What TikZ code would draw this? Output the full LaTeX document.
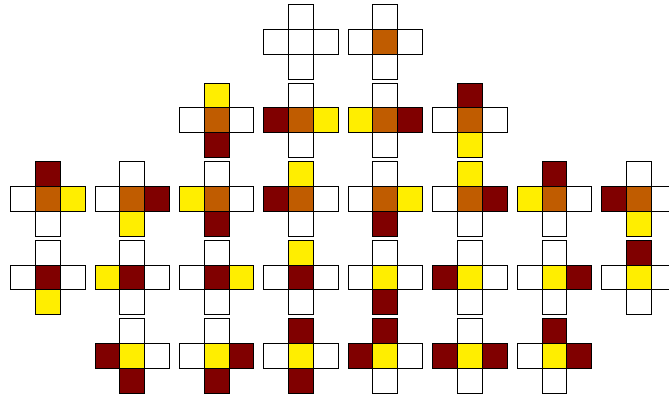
\documentclass[tikz,border=0pt]{standalone}
\definecolor{cW}{HTML}{FFFFFF}
\definecolor{cR}{HTML}{800000}
\definecolor{cO}{HTML}{C05C00}
\definecolor{cY}{HTML}{FFEE00}
\tikzset{cell/.style={draw=black,line width=0.8pt}}
\newcommand{\pluscross}[7]{%
  \begin{scope}[shift={(#1,#2)}]
    \path[cell,fill=c#3] (-12.4,-37.2) rectangle (12.4,-12.4);
    \path[cell,fill=c#4] (-37.2,-12.4) rectangle (-12.4,12.4);
    \path[cell,fill=c#5] (-12.4,-12.4) rectangle (12.4,12.4);
    \path[cell,fill=c#6] (12.4,-12.4) rectangle (37.2,12.4);
    \path[cell,fill=c#7] (-12.4,12.4) rectangle (12.4,37.2);
  \end{scope}}
\begin{document}
\begin{tikzpicture}[x=1pt,y=-1pt]
\useasboundingbox (0,0) rectangle (669,396);
\clip (0,0) rectangle (669,396);
% row 1
\pluscross{301}{41.7}{W}{W}{W}{W}{W}
\pluscross{385.2}{41.7}{W}{W}{O}{W}{W}
% row 2
\pluscross{216.5}{120.2}{Y}{W}{O}{W}{R}
\pluscross{301}{120.2}{W}{R}{O}{Y}{W}
\pluscross{385.2}{120.2}{W}{Y}{O}{R}{W}
\pluscross{469.8}{120.2}{R}{W}{O}{W}{Y}
% row 3
\pluscross{47.7}{198.8}{R}{W}{O}{Y}{W}
\pluscross{132.2}{198.8}{W}{W}{O}{R}{Y}
\pluscross{216.5}{198.8}{W}{Y}{O}{W}{R}
\pluscross{301}{198.8}{Y}{R}{O}{W}{W}
\pluscross{385.2}{198.8}{W}{W}{O}{Y}{R}
\pluscross{469.8}{198.8}{Y}{W}{O}{R}{W}
\pluscross{554.4}{198.8}{R}{Y}{O}{W}{W}
\pluscross{638.8}{198.8}{W}{R}{O}{W}{Y}
% row 4
\pluscross{47.7}{277.3}{W}{W}{R}{W}{Y}
\pluscross{132.2}{277.3}{W}{Y}{R}{W}{W}
\pluscross{216.5}{277.3}{W}{W}{R}{Y}{W}
\pluscross{301}{277.3}{Y}{W}{R}{W}{W}
\pluscross{385.2}{277.3}{W}{W}{Y}{W}{R}
\pluscross{469.8}{277.3}{W}{R}{Y}{W}{W}
\pluscross{554.4}{277.3}{W}{W}{Y}{R}{W}
\pluscross{638.8}{277.3}{R}{W}{Y}{W}{W}
% row 5
\pluscross{132.2}{355.7}{W}{R}{Y}{W}{R}
\pluscross{216.5}{355.7}{W}{W}{Y}{R}{R}
\pluscross{301}{355.7}{R}{W}{Y}{W}{R}
\pluscross{385.2}{355.7}{R}{R}{Y}{W}{W}
\pluscross{469.8}{355.7}{W}{R}{Y}{R}{W}
\pluscross{554.4}{355.7}{R}{W}{Y}{R}{W}
\end{tikzpicture}
\end{document}
